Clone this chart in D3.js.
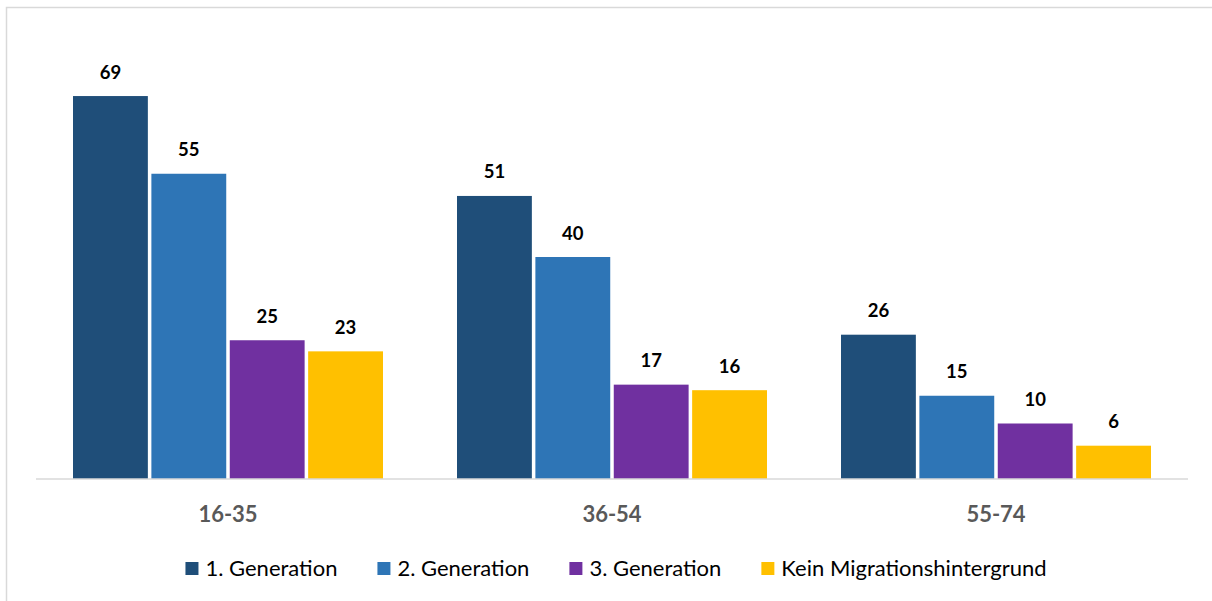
<!DOCTYPE html>
<html>
<head>
<meta charset="utf-8">
<script src="https://cdn.jsdelivr.net/npm/d3@7"></script>
<style>
  html, body { margin: 0; padding: 0; background: #fff; }
  svg { display: block; }
</style>
</head>
<body>
<svg id="chart" width="1212" height="601"></svg>
<script>
// Age groups and series
const ageGroups = ["16-35", "36-54", "55-74"];
const seriesNames = ["1. Generation", "2. Generation", "3. Generation", "Kein Migrationshintergrund"];
const seriesColors = ["#1F4E79", "#2E75B6", "#7030A0", "#FFC000"];

// Values per series, in age-group order
const gen1 = [69, 51, 26];
const gen2 = [55, 40, 15];
const gen3 = [25, 17, 10];
const keinMigration = [23, 16, 6];
const seriesValues = [gen1, gen2, gen3, keinMigration];

const svg = d3.select("#chart");
const fontFamily = "Lato, 'Noto Sans', sans-serif";

// Chart frame
svg.append("rect")
  .attr("x", 6.5).attr("y", 7.5)
  .attr("width", 1300).attr("height", 700)
  .attr("fill", "none")
  .attr("stroke", "#d9d9d9")
  .attr("stroke-width", 1.5);

const plot = { left: 36, right: 1188, base: 479, top: 35 };

const x0 = d3.scaleBand().domain(ageGroups).range([plot.left, plot.right]).padding(0);
const inner = 37;
const x1 = d3.scaleBand().domain(seriesNames)
  .range([inner, x0.bandwidth() - inner])
  .paddingInner(0.045).paddingOuter(0);
const y = d3.scaleLinear().domain([0, 80]).range([plot.base, plot.top]);

const rows = [];
ageGroups.forEach((g, gi) => {
  seriesNames.forEach((s, si) => {
    rows.push({ group: g, series: s, color: seriesColors[si], value: seriesValues[si][gi] });
  });
});

// Bars
svg.append("g").selectAll("rect")
  .data(rows)
  .join("rect")
  .attr("x", d => x0(d.group) + x1(d.series))
  .attr("y", d => y(d.value))
  .attr("width", x1.bandwidth())
  .attr("height", d => y(0) - y(d.value))
  .attr("fill", d => d.color);

// Value labels
svg.append("g").selectAll("text")
  .data(rows)
  .join("text")
  .attr("x", d => x0(d.group) + x1(d.series) + x1.bandwidth() / 2)
  .attr("y", d => y(d.value) - 17.5)
  .attr("text-anchor", "middle")
  .attr("font-family", fontFamily)
  .attr("font-weight", "bold")
  .attr("font-size", 18.5)
  .attr("fill", "#000")
  .text(d => d.value);

// Category axis
const xAxis = svg.append("g")
  .attr("transform", `translate(0,${plot.base})`)
  .call(d3.axisBottom(x0).tickSize(0).tickPadding(0));
xAxis.select(".domain")
  .attr("d", `M${plot.left},0H${plot.right}`)
  .attr("stroke", "#d9d9d9")
  .attr("stroke-width", 1.5);
xAxis.selectAll(".tick text")
  .attr("y", 43)
  .attr("dy", null)
  .attr("font-family", fontFamily)
  .attr("font-weight", "bold")
  .attr("font-size", 22)
  .attr("fill", "#595959");

// Legend
const legend = svg.append("g");
const items = legend.selectAll("g")
  .data(seriesNames)
  .join("g");
items.append("rect")
  .attr("width", 13).attr("height", 13)
  .attr("y", 562)
  .attr("fill", (d, i) => seriesColors[i]);
items.append("text")
  .attr("x", 20)
  .attr("y", 576)
  .attr("font-family", fontFamily)
  .attr("font-size", 22)
  .attr("fill", "#000")
  .text(d => d);

let cursor = 0;
items.each(function () {
  const g = d3.select(this);
  const w = 20 + g.select("text").node().getComputedTextLength();
  g.attr("transform", `translate(${cursor},0)`);
  cursor += w + 40;
});
const legendWidth = cursor - 40;
legend.attr("transform", `translate(${616 - legendWidth / 2},0)`);
</script>
</body>
</html>
